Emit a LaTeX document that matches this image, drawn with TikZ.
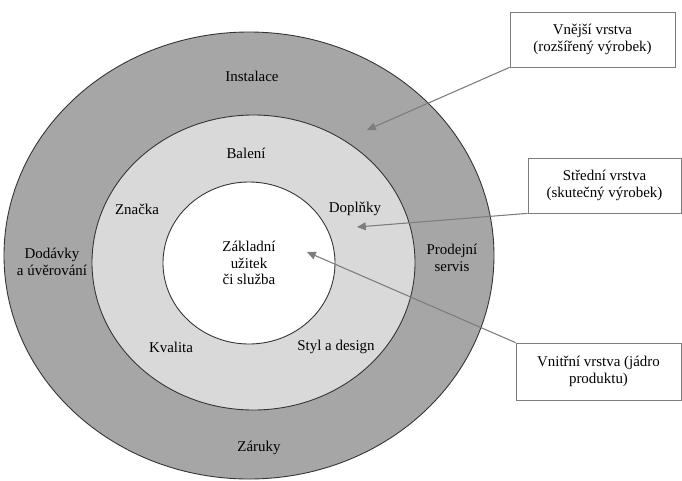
\documentclass[tikz,border=0pt]{standalone}
\usepackage{fontspec}
\setmainfont{Liberation Serif}
\usepackage{tikz}
\usetikzlibrary{arrows.meta,shapes.geometric}

\definecolor{outer_gray}{RGB}{166,166,166}
\definecolor{middle_gray}{RGB}{217,217,217}
\definecolor{pointer_gray}{RGB}{125,125,125}

\begin{document}
\begin{tikzpicture}

	\tikzstyle{layer_node}=[ellipse, draw=black!80, line width=0.5pt, inner sep=0pt]
	\tikzstyle{layer_text}=[align=center, font=\fontsize{8.5}{9.5}\selectfont]
	\tikzstyle{legend_node}=[rectangle, draw=pointer_gray, fill=white, align=center, font=\fontsize{8.5}{10}\selectfont]
	\tikzstyle{pointer_arrow}=[-{Triangle[length=5pt,width=4.5pt]}, draw=pointer_gray, fill=pointer_gray, line width=0.6pt]

	\useasboundingbox (0, 0) rectangle (13.64, -9.6);

	%Main nodes
	\node[layer_node, fill=outer_gray, minimum width=9.8cm, minimum height=8.94cm] at (4.98, -5.11) (outer_layer) {};
	\node[layer_node, fill=middle_gray, minimum width=6.46cm, minimum height=5.9cm] at (5.07, -5.25) (middle_layer) {};
	\node[layer_node, fill=white, minimum width=3.44cm, minimum height=3.24cm] at (4.98, -5.26) (inner_layer) {};

	% Text nodes
	\node[layer_text] at (5.04, -1.52) (instalace) {Instalace};
	\node[layer_text] at (1.04, -5.24) (dodavky) {Dodávky\\a úvěrování};
	\node[layer_text] at (9.04, -5.16) (prodejni) {Prodejní\\servis};
	\node[layer_text] at (5.18, -8.96) (zaruky) {Záruky};

	\node[layer_text] at (4.92, -3.06) (baleni) {Balení};
	\node[layer_text] at (2.74, -4.18) (znacka) {Značka};
	\node[layer_text] at (7.10, -4.18) (doplnky) {Doplňky};
	\node[layer_text] at (3.42, -6.94) (kvalita) {Kvalita};
	\node[layer_text] at (6.72, -6.94) (styl) {Styl a design};

	\node[layer_text] at (4.98, -5.26) (zaklad) {Základní\\užitek\\či služba};

	\node[legend_node, minimum width=3.3cm, minimum height=1.1cm] at (11.85, -0.79) (outer_legend) {Vnější vrstva\\(rozšířený výrobek)};
	\node[legend_node, minimum width=3.06cm, minimum height=1.1cm] at (12.09, -3.71) (middle_legend) {Střední vrstva\\(skutečný výrobek)};
	\node[legend_node, minimum width=3.3cm, minimum height=1.14cm] at (11.97, -7.43) (inner_legend) {Vnitřní vrstva (jádro\\produktu)};

	\coordinate (outer_target) at (7.34, -2.6);
	\coordinate (middle_target) at (7.14, -4.54);
	\coordinate (inner_target) at (6.14, -5.04);

	% Connections
	\draw[pointer_arrow] (outer_legend.south west) -- (outer_target);
	\draw[pointer_arrow] (middle_legend.south west) -- (middle_target);
	\draw[pointer_arrow] (inner_legend.north west) -- (inner_target);

\end{tikzpicture}
\end{document}
